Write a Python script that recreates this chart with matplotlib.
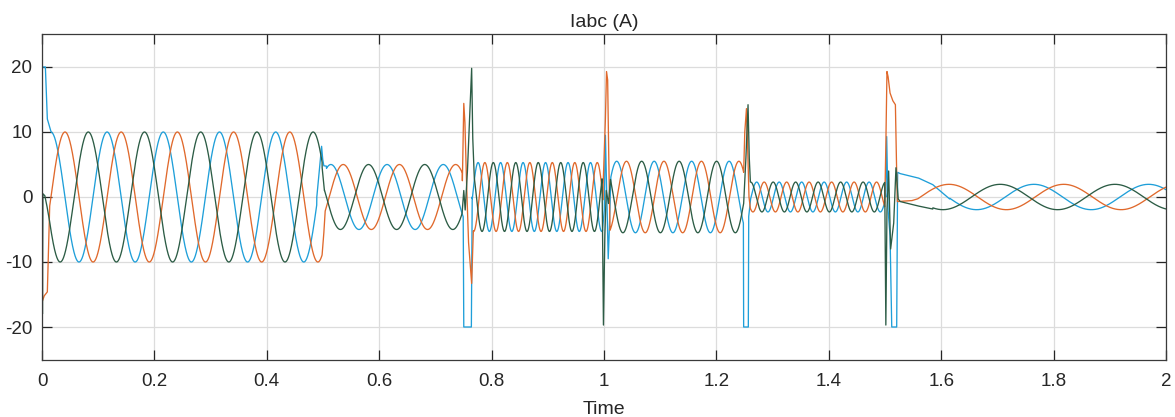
import numpy as np
import matplotlib
matplotlib.use("Agg")
import matplotlib.pyplot as plt
from matplotlib.ticker import FormatStrFormatter, MultipleLocator

# ---- operating regimes between switching instants ----
regime_freq = [10.0, 10.0, 25.0, 15.0, 25.0, 4.9]      # Hz
regime_amp = [10.0, 5.0, 5.3, 5.5, 2.3, 1.95]          # A (peak)
# time of a positive peak of each phase current in each regime (s)
peak_a = [0.0158, 0.514, 0.776, 1.0226, 1.2717, 1.765]
peak_b = [0.0409, 0.636, 0.788, 1.040, 1.285, 1.614]
peak_c = [0.0824, 0.581, 0.803, 1.067, 1.301, 1.705]

# ---- switching transients (time s, current A) at t = 0, 0.5, 0.75, 1.0, 1.25, 1.5 ----
events_a = [
    [(0.0, 20), (0.006, 20), (0.0095, 12), (0.016, 10.0)],
    [(0.489, 0.0), (0.494, 4.5), (0.4975, 7.8), (0.4995, 5.8), (0.5015, 4.8), (0.506, 4.75)],
    [(0.7495, -3.5), (0.7505, -20), (0.764, -20), (0.7655, 0.0)],
    [(0.9975, -4.9), (1.0005, -2), (1.0025, 9.5), (1.005, 0), (1.0075, -9.5), (1.0095, -5), (1.012, 2.8)],
    [(1.248, -4.0), (1.2485, -20), (1.2568, -20), (1.2575, -3), (1.2605, -0.5)],
    [(1.4995, 1.5), (1.5015, 0), (1.503, 9.3), (1.5055, -2), (1.509, -6), (1.512, -20),
     (1.5208, -20), (1.5225, 3.8), (1.527, 3.6), (1.56, 2.9), (1.585, 1.9), (1.615, -0.3)],
]
events_b = [
    [(0.0, 20), (0.0008, -16), (0.004, -15.2), (0.0095, -14.6), (0.0115, -8), (0.0135, -1.5)],
    [(0.4985, -8.8), (0.5015, -5.5), (0.5035, -2.6)],
    [(0.748, 2.5), (0.7505, 14.4), (0.7525, 11.5), (0.7555, 2), (0.759, -7), (0.7645, -13.3), (0.7675, -5.2)],
    [(0.9985, 2.0), (1.0025, 12), (1.0045, 19.3), (1.0065, 18.0), (1.0085, 6), (1.0105, -4.5)],
    [(1.2485, 3.8), (1.2505, 10), (1.2535, 13.6), (1.2555, 8), (1.258, 0), (1.2605, -1.8)],
    [(1.4995, -1.5), (1.5015, 8), (1.5035, 19.3), (1.5055, 18.5), (1.509, 16), (1.514, 14.8),
     (1.5185, 14.2), (1.5205, 5), (1.522, -0.7), (1.548, -0.55), (1.558, -0.3)],
]
events_c = [
    [(0.0, 13), (0.0008, -18), (0.0016, 0.5), (0.005, 0.2), (0.009, -1.5), (0.0132, -3.5)],
    [(0.4985, 4.5), (0.5025, 1.0)],
    [(0.7475, -2.5), (0.7505, 1), (0.753, -2), (0.757, 4), (0.7645, 19.8), (0.7665, 9), (0.769, 3.1)],
    [(0.9965, 2.8), (0.999, -19.7), (1.0015, -6), (1.004, 1), (1.008, -1), (1.0115, 2.7)],
    [(1.2485, -1.0), (1.2525, 6), (1.2563, 14.2), (1.2585, 6), (1.2605, 2.3)],
    [(1.4995, 2.2), (1.5015, -19.7), (1.5035, -2), (1.5065, 4), (1.51, -8), (1.5155, -4),
     (1.5195, 4.5), (1.5235, -0.3), (1.527, -0.7), (1.56, -1.4), (1.585, -1.85)],
]

T_END = 2.0
DT = 2e-4


def phase_current(peaks, events):
    """Stitch switching transients and steady sinusoidal regimes into one trace."""
    t_all, i_all = [], []
    for k in range(len(regime_freq)):
        ev = np.asarray(events[k], dtype=float)
        t_all.append(ev[:, 0])
        i_all.append(ev[:, 1])
        lo = ev[-1, 0]
        hi = events[k + 1][0][0] if k + 1 < len(events) else T_END
        t = np.arange(lo + DT, hi, DT)
        if k + 1 == len(events):
            t = np.append(t, T_END)
        i = regime_amp[k] * np.cos(2 * np.pi * regime_freq[k] * (t - peaks[k]))
        t_all.append(t)
        i_all.append(i)
    return np.concatenate(t_all), np.concatenate(i_all)


plt.rcParams["font.family"] = ["Liberation Sans", "DejaVu Sans"]
plt.rcParams["axes.unicode_minus"] = False

fig = plt.figure(figsize=(11.75, 4.17), dpi=100)
ax = fig.add_axes([42 / 1175, 1 - 359.5 / 417, (1166 - 42) / 1175, (359.5 - 34.5) / 417])

colors = {"a": "#1f9fd9", "b": "#e0692c", "c": "#2c5c45"}
for key, peaks, events in (("a", peak_a, events_a), ("b", peak_b, events_b), ("c", peak_c, events_c)):
    t, i = phase_current(peaks, events)
    ax.plot(t, i, color=colors[key], lw=0.95, solid_joinstyle="round")

ax.set_xlim(0, 2)
ax.set_ylim(-25, 25)
ax.xaxis.set_major_locator(MultipleLocator(0.2))
ax.yaxis.set_ticks([-20, -10, 0, 10, 20])
ax.xaxis.set_major_formatter(FormatStrFormatter("%g"))

ax.grid(True, color="#dcdcdc", lw=0.9)
ax.set_axisbelow(True)
for s in ax.spines.values():
    s.set_color("#3a3a3a")
    s.set_linewidth(0.9)
ax.tick_params(direction="in", length=7.5, width=0.9, color="#262626",
               top=True, right=True, labelsize=13.5, labelcolor="#262626")
ax.tick_params(axis="x", pad=10)
ax.tick_params(axis="y", pad=7)

ax.set_title("Iabc (A)", fontsize=14, color="#262626", pad=5.5)
ax.set_xlabel("Time", fontsize=14, color="#262626", labelpad=8)

fig.savefig("out.png", dpi=100)
